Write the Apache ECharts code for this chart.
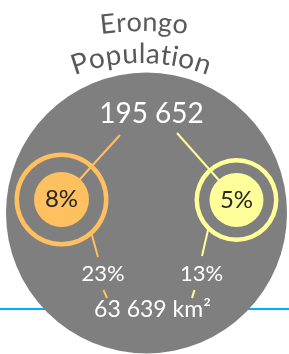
<!DOCTYPE html>
<html>
<head>
<meta charset="utf-8">
<script src="https://cdn.jsdelivr.net/npm/echarts@6/dist/echarts.min.js"></script>
<style>
    html, body { margin: 0; padding: 0; background: #fff; }
    #main { width: 289px; height: 354px; }
</style>
</head>
<body>
<div id="main"></div>
<script>
// data
const titleLines = ['Erongo', 'Population'];
const population = 195652;
const areaKm2 = 63639;
const ringShares = [8, 5];
const lowerShares = [23, 13];

// styles
const GRAY = '#7F7F7F';
const SIDE_COLORS = ['#FFC05F', '#FFFF99'];
const FONT = 'Lato, "Noto Sans", sans-serif';

const fmt = (n) => String(n).replace(/\B(?=(\d{3})+(?!\d))/g, ' ');

// letters placed along an arc (text "arch up")
const measureCtx = document.createElement('canvas').getContext('2d');
function arcText(str, size, cx, cy, r) {
    const font = size + 'px ' + FONT;
    measureCtx.font = font;
    let widths = Array.from(str).map(ch => measureCtx.measureText(ch).width);
    let total = widths.reduce((a, b) => a + b, 0);
    let pos = -total / 2;
    return Array.from(str).map((ch, i) => {
        let a = (pos + widths[i] / 2) / r;
        pos += widths[i];
        return {
            type: 'text',
            x: cx + r * Math.sin(a),
            y: cy - r * Math.cos(a),
            rotation: -a,
            z: 10,
            style: { text: ch, font: font, fill: '#595959', align: 'center', verticalAlign: 'bottom' }
        };
    });
}

const CX = 146.5, CY = 213, R = 140.5;
const ringPos = [[61.5, 199.5], [236.5, 200]];
const ringRadius = [[42.5, 47], [37.5, 42]];
const innerRadius = [27.5, 27];

let series = [{
    type: 'pie',
    center: [CX, CY],
    radius: R,
    silent: true,
    z: 1,
    label: { show: false },
    itemStyle: { color: GRAY, borderWidth: 0 },
    data: [{ value: 1 }]
}];

ringShares.forEach((v, i) => {
    series.push({
        type: 'pie',
        center: ringPos[i],
        radius: ringRadius[i],
        silent: true,
        z: 5,
        label: { show: false },
        itemStyle: { color: SIDE_COLORS[i], borderWidth: 0 },
        data: [{ value: 1 }]
    });
    series.push({
        type: 'pie',
        center: ringPos[i],
        radius: innerRadius[i],
        silent: true,
        z: 6,
        itemStyle: { color: SIDE_COLORS[i], borderWidth: 0 },
        label: {
            show: true,
            position: 'center',
            formatter: v + '%',
            fontFamily: FONT,
            fontSize: 24,
            color: '#262626'
        },
        labelLine: { show: false },
        data: [{ value: v }]
    });
});

// connector segments
const links = [
    [[120, 135], ringPos[0]], [[91, 232], [98, 257]], [[103.5, 290], [107, 298]],
    [[177, 133], ringPos[1]], [[208, 230], [202, 256]], [[194.5, 290], [192, 298]]
];

let graphic = [{
    type: 'line',
    z: 0,
    shape: { x1: 0, y1: 309, x2: 289, y2: 309 },
    style: { stroke: '#00B0F0', lineWidth: 2 }
}];

links.forEach((l, i) => {
    graphic.push({
        type: 'line',
        z: 3,
        shape: { x1: l[0][0], y1: l[0][1], x2: l[1][0], y2: l[1][1] },
        style: { stroke: SIDE_COLORS[i < 3 ? 0 : 1], lineWidth: 2 }
    });
});

graphic = graphic.concat(arcText(titleLines[0], 27, 144, 356, 320));
graphic = graphic.concat(arcText(titleLines[1], 28, 141, 253, 185));

const textStyle = (s, size) => ({ text: s, font: size + 'px ' + FONT, fill: '#fff', align: 'center', verticalAlign: 'middle' });
graphic.push({ type: 'text', x: 151.5, y: 114, z: 10, style: textStyle(fmt(population), 28) });
lowerShares.forEach((v, i) => {
    graphic.push({ type: 'text', x: [103, 201.5][i], y: 273.5, z: 10, style: textStyle(v + '%', 22) });
});
graphic.push({ type: 'text', x: 152.5, y: 310, z: 10, style: textStyle(fmt(areaKm2) + ' km²', 23) });

let myChart = echarts.init(document.getElementById('main'));
myChart.setOption({
    animation: false,
    backgroundColor: '#fff',
    series: series,
    graphic: graphic
});
</script>
</body>
</html>
